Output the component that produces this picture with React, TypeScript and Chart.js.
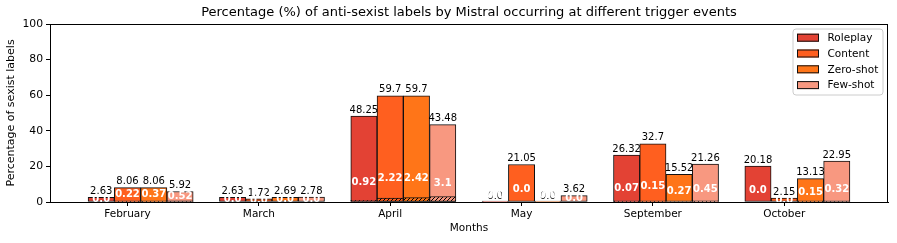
import { useEffect, useRef } from 'react';
import { Chart, registerables } from 'chart.js';

Chart.register(...registerables);

const months = ['February', 'March', 'April', 'May', 'September', 'October'];
const seriesNames = ['Roleplay', 'Content', 'Zero-shot', 'Few-shot'];
const roleplayTotals = [2.63, 2.63, 48.25, 0.0, 26.32, 20.18];
const contentTotals = [8.06, 1.72, 59.7, 21.05, 32.7, 2.15];
const zeroShotTotals = [8.06, 2.69, 59.7, 0.0, 15.52, 13.13];
const fewShotTotals = [5.92, 2.78, 43.48, 3.62, 21.26, 22.95];
const roleplayAnti = [0.0, 0.0, 0.92, 0.0, 0.07, 0.0];
const contentAnti = [0.22, 0.0, 2.22, 0.0, 0.15, 0.0];
const zeroShotAnti = [0.37, 0.0, 2.42, 0.0, 0.27, 0.15];
const fewShotAnti = [0.52, 0.0, 3.1, 0.0, 0.45, 0.32];
const seriesColors = ['#E34234', '#FF5F1F', '#FF7518', '#F89880'];
const yTickValues = [0, 20, 40, 60, 80, 100];

const FONT = '"DejaVu Sans", Verdana, sans-serif';

const fmt = (v: number) => (Number.isInteger(v) ? v.toFixed(1) : String(v));

function makeHatch(color: string): CanvasPattern | string {
  const c = document.createElement('canvas');
  c.width = 4;
  c.height = 4;
  const g = c.getContext('2d');
  if (!g) return color;
  g.fillStyle = color;
  g.fillRect(0, 0, 4, 4);
  g.strokeStyle = '#000';
  g.lineWidth = 1;
  g.beginPath();
  g.moveTo(-1, 1); g.lineTo(1, -1);
  g.moveTo(0, 4); g.lineTo(4, 0);
  g.moveTo(3, 5); g.lineTo(5, 3);
  g.stroke();
  const p = g.createPattern(c, 'repeat');
  return p || color;
}

export default function App() {
  const ref = useRef<HTMLCanvasElement>(null);

  useEffect(() => {
    const canvas = ref.current;
    if (!canvas) return;
    const totals = [roleplayTotals, contentTotals, zeroShotTotals, fewShotTotals];
    const antis = [roleplayAnti, contentAnti, zeroShotAnti, fewShotAnti];

    const common = {
      grouped: false,
      categoryPercentage: 1,
      barPercentage: 1,
      borderColor: '#111',
      borderWidth: 1,
      borderSkipped: false,
    };
    const datasets: any[] = [];
    totals.forEach((vals, k) => {
      datasets.push({
        ...common,
        label: seriesNames[k],
        data: vals.map((v, i) => ({ x: i + (k - 1) * 0.2, y: v })),
        backgroundColor: seriesColors[k],
        minBarLength: 1,
        order: 1,
      });
    });
    antis.forEach((vals, k) => {
      datasets.push({
        ...common,
        label: seriesNames[k] + ' anti',
        data: vals.map((v, i) => ({ x: i + (k - 1) * 0.2, y: v })),
        backgroundColor: makeHatch(seriesColors[k]),
        order: 0,
      });
    });

    const labelPlugin = {
      id: 'barLabels',
      afterDatasetsDraw(chart: any) {
        const ctx = chart.ctx;
        const ys = chart.scales.y;
        ctx.save();
        ctx.font = `10px ${FONT}`;
        ctx.textAlign = 'center';
        ctx.textBaseline = 'bottom';
        ctx.fillStyle = '#000';
        for (let k = 0; k < totals.length; k++) {
          const meta = chart.getDatasetMeta(k);
          meta.data.forEach((el: any, i: number) => {
            const top = ys.getPixelForValue(totals[k][i]);
            ctx.fillText(fmt(totals[k][i]), el.x, top - 1);
          });
        }
        ctx.font = `bold 10px ${FONT}`;
        ctx.fillStyle = '#fff';
        ctx.textBaseline = 'middle';
        for (let k = 0; k < totals.length; k++) {
          const meta = chart.getDatasetMeta(k);
          meta.data.forEach((el: any, i: number) => {
            const t = totals[k][i];
            const pos = t === 0 ? 3.5 : Math.min(t / 2, 3.5 + 0.16 * t);
            ctx.fillText(fmt(antis[k][i]), el.x, ys.getPixelForValue(pos));
          });
        }
        ctx.restore();
      },
    };

    const framePlugin = {
      id: 'frameLegend',
      afterDraw(chart: any) {
        const ctx = chart.ctx;
        const a = chart.chartArea;
        ctx.save();
        ctx.strokeStyle = '#000';
        ctx.lineWidth = 1;
        ctx.strokeRect(Math.round(a.left) + 0.5, Math.round(a.top) + 0.5,
          Math.round(a.right - a.left) - 1, Math.round(a.bottom - a.top));
        // legend
        const w = 90, h = 66;
        const lx = a.right - 5 - w;
        const ly = a.top + 5;
        ctx.beginPath();
        const r = 3;
        ctx.moveTo(lx + r, ly);
        ctx.arcTo(lx + w, ly, lx + w, ly + h, r);
        ctx.arcTo(lx + w, ly + h, lx, ly + h, r);
        ctx.arcTo(lx, ly + h, lx, ly, r);
        ctx.arcTo(lx, ly, lx + w, ly, r);
        ctx.closePath();
        ctx.fillStyle = 'rgba(255,255,255,0.8)';
        ctx.fill();
        ctx.strokeStyle = '#ccc';
        ctx.stroke();
        ctx.font = `10.5px ${FONT}`;
        ctx.textAlign = 'left';
        ctx.textBaseline = 'middle';
        seriesNames.forEach((name, k) => {
          const cy = ly + 8.7 + k * 15.8;
          ctx.fillStyle = seriesColors[k];
          ctx.fillRect(lx + 4, cy - 4, 22, 8);
          ctx.strokeStyle = '#111';
          ctx.strokeRect(lx + 4.5, cy - 3.5, 21, 7);
          ctx.fillStyle = '#000';
          ctx.fillText(name, lx + 34.5, cy + 0.5);
        });
        ctx.restore();
      },
    };

    const chart = new Chart(canvas, {
      type: 'bar',
      data: { datasets },
      options: {
        responsive: false,
        animation: false,
        maintainAspectRatio: false,
        layout: { padding: { left: 0, right: 9, top: 0, bottom: 0 } },
        plugins: {
          legend: { display: false },
          tooltip: { enabled: false },
          title: {
            display: true,
            text: 'Percentage (%) of anti-sexist labels by Mistral occurring at different trigger events',
            fullSize: false,
            color: '#000',
            font: { family: FONT, size: 13, weight: 'normal', lineHeight: 1.2 },
            padding: { top: 5, bottom: 3.4 },
          },
        },
        scales: {
          x: {
            type: 'linear',
            min: -0.59,
            max: 5.79,
            offset: false,
            stacked: false,
            grid: { display: true, offset: false, drawOnChartArea: false, drawTicks: true, tickLength: 4, color: '#000' },
            border: { display: true, color: '#000' },
            afterBuildTicks: (s: any) => { s.ticks = months.map((_, i) => ({ value: i })); },
            afterFit: (s: any) => { s.height = 41; },
            ticks: {
              autoSkip: false,
              maxRotation: 0,
              padding: 2,
              color: '#000',
              font: { family: FONT, size: 10.5 },
              callback: (v: any) => months[Math.round(Number(v))] ?? '',
            },
            title: {
              display: true,
              text: 'Months',
              color: '#000',
              font: { family: FONT, size: 10.5 },
              padding: { top: 2, bottom: 8 },
            },
          },
          y: {
            min: 0,
            max: 100,
            stacked: false,
            grid: { display: true, drawOnChartArea: false, drawTicks: true, tickLength: 4, color: '#000' },
            border: { display: true, color: '#000' },
            afterBuildTicks: (s: any) => { s.ticks = yTickValues.map((v) => ({ value: v })); },
            afterFit: (s: any) => { s.width = 50; },
            ticks: {
              padding: 3,
              color: '#000',
              font: { family: FONT, size: 10.8 },
            },
            title: {
              display: true,
              text: 'Percentage of sexist labels',
              color: '#000',
              font: { family: FONT, size: 11 },
              padding: { top: 5, bottom: 0 },
            },
          },
        },
      },
      plugins: [labelPlugin, framePlugin],
    } as any);

    return () => chart.destroy();
  }, []);

  return (
    <div style={{ position: 'fixed', left: 0, top: 0, width: 897, height: 243, background: '#fff' }}>
      <canvas ref={ref} width={897} height={243} style={{ display: 'block' }} />
    </div>
  );
}
